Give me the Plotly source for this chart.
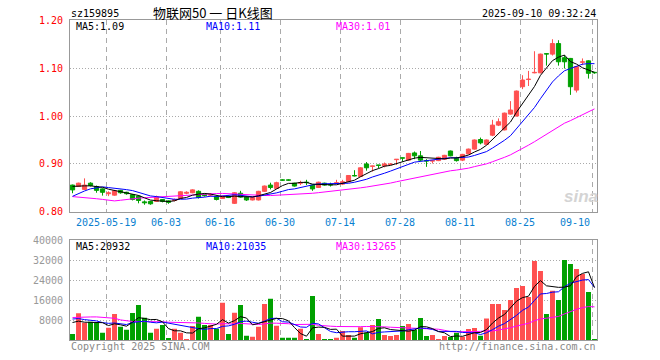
import numpy as np
import pandas as pd
import plotly.graph_objects as go

# ---------------- data ----------------
trade_days = [d.strftime('%Y-%m-%d') for d in pd.bdate_range('2025-05-09', '2025-09-10')
              if d.strftime('%Y-%m-%d') != '2025-06-02']

open_ = [0.856, 0.853, 0.847, 0.860, 0.853, 0.848, 0.838, 0.835, 0.845, 0.841,
         0.836, 0.833, 0.821, 0.822, 0.822, 0.826, 0.823, 0.824, 0.828, 0.839,
         0.840, 0.843, 0.837, 0.835, 0.832, 0.828, 0.832, 0.818, 0.839, 0.831,
         0.825, 0.825, 0.843, 0.856, 0.849, 0.867, 0.867, 0.860, 0.860, 0.862,
         0.856, 0.851, 0.860, 0.857, 0.860, 0.858, 0.863, 0.876, 0.874, 0.900,
         0.895, 0.898, 0.896, 0.899, 0.909, 0.913, 0.908, 0.923, 0.917, 0.907,
         0.906, 0.907, 0.910, 0.927, 0.912, 0.908, 0.921, 0.931, 0.951, 0.941,
         0.960, 0.981, 0.971, 1.004, 1.000, 1.061, 1.076, 1.090, 1.090, 1.130,
         1.129, 1.151, 1.1215, 1.120, 1.054, 1.112, 1.115, 1.091]
high = [0.857, 0.861, 0.870, 0.862, 0.855, 0.849, 0.843, 0.846, 0.846, 0.842,
        0.837, 0.835, 0.824, 0.823, 0.834, 0.827, 0.824, 0.828, 0.843, 0.843,
        0.847, 0.845, 0.838, 0.839, 0.834, 0.834, 0.834, 0.841, 0.844, 0.832,
        0.832, 0.844, 0.855, 0.861, 0.863, 0.868, 0.868, 0.861, 0.865, 0.867,
        0.857, 0.863, 0.861, 0.861, 0.867, 0.867, 0.877, 0.887, 0.893, 0.904,
        0.8965, 0.898, 0.903, 0.902, 0.910, 0.913, 0.923, 0.926, 0.927, 0.910,
        0.907, 0.915, 0.919, 0.928, 0.915, 0.921, 0.932, 0.951, 0.955, 0.951,
        0.992, 0.995, 1.007, 1.031, 1.053, 1.085, 1.094, 1.135, 1.130, 1.130,
        1.160, 1.158, 1.127, 1.121, 1.104, 1.120, 1.116, 1.092]
low = [0.839, 0.852, 0.846, 0.853, 0.840, 0.834, 0.833, 0.834, 0.838, 0.836,
       0.824, 0.818, 0.815, 0.815, 0.821, 0.820, 0.817, 0.822, 0.827, 0.837,
       0.839, 0.828, 0.832, 0.832, 0.824, 0.827, 0.829, 0.817, 0.830, 0.823,
       0.824, 0.824, 0.842, 0.847, 0.848, 0.865, 0.865, 0.853, 0.856, 0.856,
       0.844, 0.850, 0.855, 0.853, 0.858, 0.856, 0.862, 0.874, 0.873, 0.886,
       0.884, 0.891, 0.893, 0.898, 0.898, 0.905, 0.907, 0.910, 0.905, 0.894,
       0.901, 0.906, 0.909, 0.916, 0.905, 0.906, 0.920, 0.930, 0.941, 0.940,
       0.958, 0.979, 0.970, 1.003, 0.999, 1.056, 1.0625, 1.089, 1.089, 1.105,
       1.126, 1.105, 1.099, 1.044, 1.049, 1.106, 1.078, 1.088]
close = [0.846, 0.860, 0.856, 0.855, 0.845, 0.841, 0.840, 0.844, 0.840, 0.838,
         0.826, 0.824, 0.819, 0.817, 0.831, 0.822, 0.820, 0.826, 0.842, 0.841,
         0.846, 0.830, 0.834, 0.836, 0.826, 0.833, 0.830, 0.840, 0.831, 0.825,
         0.830, 0.843, 0.854, 0.851, 0.861, 0.866, 0.866, 0.854, 0.861, 0.861,
         0.848, 0.862, 0.856, 0.856, 0.861, 0.863, 0.876, 0.875, 0.892, 0.892,
         0.896, 0.897, 0.900, 0.900, 0.910, 0.912, 0.922, 0.917, 0.908, 0.906,
         0.907, 0.914, 0.918, 0.917, 0.907, 0.920, 0.931, 0.950, 0.944, 0.950,
         0.981, 0.988, 1.006, 1.0125, 1.052, 1.075, 1.077, 1.091, 1.129, 1.129,
         1.151, 1.113, 1.113, 1.061, 1.103, 1.113, 1.089, 1.090]
volume = [2400, 10700, 6900, 7300, 6900, 2900, 4900, 10400, 5300, 4100,
          10800, 14000, 8900, 2900, 4500, 6000, 500, 4500, 2900, 400,
          5600, 9300, 6000, 6000, 4500, 14900, 2400, 10900, 14000, 1700,
          1300, 5300, 14400, 16500, 5700, 900, 900, 900, 4500, 400,
          17600, 2400, 400, 400, 900, 3600, 2000, 900, 5100, 2900,
          6000, 8400, 2000, 1600, 2000, 5600, 6400, 4000, 8800, 1600,
          2000, 400, 1600, 1200, 2900, 1300, 4400, 4800, 1700, 8600,
          14400, 14400, 12000, 16000, 20800, 21600, 17200, 31600, 27600, 10400,
          19700, 16000, 32000, 30400, 28400, 26400, 19200, 400]
# sessions before the visible window (needed for the moving averages)
prior_close = [0.885, 0.890, 0.888, 0.886, 0.884, 0.889, 0.888, 0.800, 0.780, 0.785,
               0.790, 0.795, 0.800, 0.797, 0.800, 0.810, 0.820, 0.815, 0.820, 0.812,
               0.800, 0.805, 0.810, 0.820, 0.825, 0.855, 0.855, 0.855, 0.855]
prior_volume = [6000, 6500, 5800, 6400, 6200, 6300, 22000, 25000, 18000, 16000,
                14600, 8000, 6500, 5500, 5000, 6000, 5200, 5500, 6000, 5500,
                9000, 11000, 10000, 9500, 9500, 8000, 9000, 7600, 8000]

tick_dates = ['2025-05-19', '2025-06-03', '2025-06-16', '2025-06-30', '2025-07-14',
              '2025-07-28', '2025-08-11', '2025-08-25', '2025-09-10']
tick_text = ['2025-05-19', '06-03', '06-16', '06-30', '07-14', '07-28', '08-11', '08-25', '09-10']

# ---------------- derived ----------------
n = len(close)
x = np.arange(n)
o = np.array(open_); h = np.array(high); l = np.array(low); c = np.array(close)
v = np.array(volume)
npre = len(prior_close)
allc = pd.Series(prior_close + close)
allv = pd.Series(prior_volume + volume)
ma = {k: allc.rolling(k).mean().iloc[npre:].values for k in (5, 10, 30)}
vma = {k: allv.rolling(k).mean().iloc[npre:].values for k in (5, 10, 30)}
up = c >= o

RED = '#ff5050'
GREEN = '#00a000'
MONO = 'DejaVu Sans Mono'
CJK = 'Noto Sans CJK SC'

tick_idx = [trade_days.index(d) for d in tick_dates]
grid_pos = [i - 0.35 for i in tick_idx]

fig = go.Figure()

# candle bodies
for mask, col in ((up, RED), (~up, GREEN)):
    xs = x[mask]
    base = np.minimum(o, c)[mask]
    hgt = np.maximum(np.abs(c - o)[mask], 0.0006)
    fig.add_trace(go.Bar(x=xs, y=hgt, base=base, width=0.7, xaxis='x', yaxis='y',
                         marker=dict(color=col, line=dict(color=col, width=1)),
                         hoverinfo='skip'))
# wicks
for mask, col in ((up, RED), (~up, GREEN)):
    wx, wy = [], []
    for i in x[mask]:
        wx += [i, i, None]
        wy += [l[i], h[i], None]
    fig.add_trace(go.Scatter(x=wx, y=wy, mode='lines', line=dict(color=col, width=1),
                             xaxis='x', yaxis='y', hoverinfo='skip'))
# price MAs
for k, col in ((30, '#ff00ff'), (10, '#0000ff'), (5, '#000000')):
    fig.add_trace(go.Scatter(x=x, y=ma[k], mode='lines', line=dict(color=col, width=1),
                             xaxis='x', yaxis='y', hoverinfo='skip'))
# volume bars
fig.add_trace(go.Bar(x=x, y=v, width=0.83, xaxis='x2', yaxis='y2',
                     marker=dict(color=[RED if u else GREEN for u in up], line=dict(width=0)),
                     hoverinfo='skip'))
for k, col in ((30, '#ff00ff'), (10, '#0000ff'), (5, '#000000')):
    fig.add_trace(go.Scatter(x=x, y=vma[k], mode='lines', line=dict(color=col, width=1),
                             xaxis='x2', yaxis='y2', hoverinfo='skip'))

# ---------------- layout ----------------
W, H = 660, 360
L, R, T, B = 70, 597, 20, 340

def px(xs, ys):
    return (xs - L) / (R - L), (B - ys) / (B - T)

ann = []
def text(t, xs, ys, color='#000000', size=10, xanchor='left', family=MONO):
    ax, ay = px(xs, ys)
    ann.append(dict(text=t, x=ax, y=ay, xref='paper', yref='paper', showarrow=False,
                    xanchor=xanchor, yanchor='middle', font=dict(family=family, size=size, color=color)))

text('sz159895', 69, 13.5)
text('物联网50 一 日K线图', 213, 12.5, size=13, xanchor='center', family=CJK)
text('2025-09-10 09:32:24', 598, 13.5, xanchor='right')
text('MA5:1.09', 74, 26.5)
text('MA10:1.11', 204, 26.5, color='#0000ff')
text('MA30:1.01', 334, 26.5, color='#ff00ff')
text('MA5:20932', 74, 246.5)
text('MA10:21035', 204, 246.5, color='#0000ff')
text('MA30:13265', 334, 246.5, color='#ff00ff')
text('Copyright 2025 SINA.COM', 69, 346, color='#888888')
text('http://finance.sina.com.cn', 598, 346, color='#888888', xanchor='right')
text('<b><i>sina</i></b>', 581, 196, color='#d4d4d4', size=17, xanchor='center', family='Liberation Sans')

_, dy = px(0, 222)
for i, (g, t) in enumerate(zip(grid_pos, tick_text)):
    last = i == len(tick_text) - 1
    ann.append(dict(text=t, x=(g - 0.1) if last else g, y=dy, xref='x', yref='paper',
                    showarrow=False, xanchor='right' if last else 'center', yanchor='middle',
                    font=dict(family=MONO, size=10, color='#0a7fd0')))

xcommon = dict(range=[-0.42, n - 0.58], showgrid=True, gridcolor='#aaaaaa', griddash='5px,4px',
               gridwidth=1, tickvals=grid_pos, showticklabels=False, ticks='', zeroline=False,
               showline=True, mirror=True, linecolor='#999999', linewidth=1, fixedrange=True)
fig.update_layout(
    width=W, height=H, margin=dict(l=L, r=W - R, t=T, b=H - B, autoexpand=False),
    paper_bgcolor='white', plot_bgcolor='white', showlegend=False, barmode='overlay',
    hovermode=False,
    xaxis=dict(domain=[0, 1], anchor='y', **xcommon),
    xaxis2=dict(domain=[0, 1], anchor='y2', **xcommon),
    yaxis=dict(domain=[(B - 212) / (B - T), 1], range=[0.7999, 1.2001], fixedrange=True,
               tickvals=[0.8, 0.9, 1.0, 1.1, 1.2], ticktext=['0.80', '0.90', '1.00', '1.10', '1.20'],
               tickfont=dict(family=MONO, size=10, color='#ff0000'), ticks='', ticklabelstandoff=4,
               showgrid=True, gridcolor='#aaaaaa', griddash='1px,2px', zeroline=False,
               showline=True, mirror=True, linecolor='#999999'),
    yaxis2=dict(domain=[0, (B - 240) / (B - T)], range=[0, 40000], fixedrange=True,
                tickvals=[8000, 16000, 24000, 32000, 40000],
                ticktext=['8000', '16000', '24000', '32000', '40000'],
                tickfont=dict(family=MONO, size=10, color='#999999'), ticks='', ticklabelstandoff=4,
                showgrid=True, gridcolor='#aaaaaa', griddash='1px,2px', zeroline=False,
                showline=True, mirror=True, linecolor='#999999'),
    annotations=ann,
)
# remove the browser's default 8px page margin so the figure sits at the window origin
fig.write_html('out.html', config={'displayModeBar': False, 'staticPlot': False},
               post_script="document.body.style.margin='0';document.body.style.overflow='hidden';")
